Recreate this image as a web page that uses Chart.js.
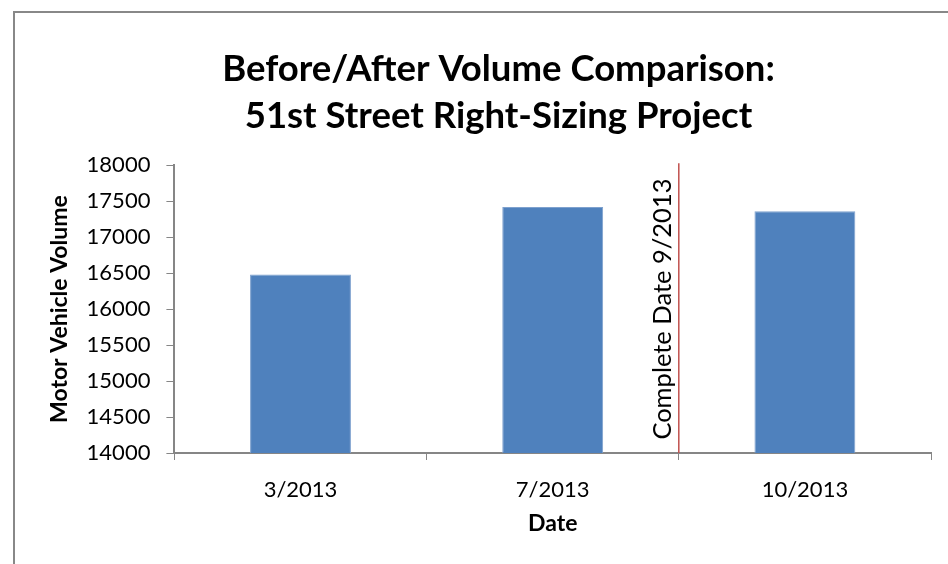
<!DOCTYPE html>
<html>
<head>
<meta charset="utf-8">
<script src="https://cdn.jsdelivr.net/npm/chart.js@4"></script>
<style>
    body { margin: 0; background: #fff; }
    #wrap { position: relative; width: 948px; height: 564px; }
    #frame { position: absolute; left: 13px; top: 11px; right: 0; bottom: 0;
             border-left: 2px solid #888; border-top: 2px solid #888; }
    #chart { position: absolute; left: 0; top: 0; }
</style>
</head>
<body>
<div id="wrap">
    <div id="frame"></div>
    <canvas id="chart" width="948" height="564"></canvas>
</div>
<script>
const dates = ['3/2013', '7/2013', '10/2013'];
const volumes = [16480, 17420, 17360];
const yTicks = [14000, 14500, 15000, 15500, 16000, 16500, 17000, 17500, 18000];
const markerLabel = 'Complete Date 9/2013';

// red line between 7/2013 and 10/2013 with rotated note
const completeLine = {
    id: 'completeLine',
    afterDatasetsDraw(chart) {
        const x = chart.scales.x;
        const area = chart.chartArea;
        const px = (x.getPixelForValue(1) + x.getPixelForValue(2)) / 2;
        const ctx = chart.ctx;
        ctx.save();
        ctx.strokeStyle = '#C0504D';
        ctx.lineWidth = 1.5;
        ctx.beginPath();
        ctx.moveTo(px, area.top - 2);
        ctx.lineTo(px, area.bottom);
        ctx.stroke();
        ctx.translate(px - 8, (area.top + area.bottom) / 2);
        ctx.rotate(-Math.PI / 2);
        ctx.fillStyle = '#000';
        ctx.font = '25.5px Lato';
        ctx.textAlign = 'center';
        ctx.textBaseline = 'alphabetic';
        ctx.fillText(markerLabel, 0, 0);
        ctx.restore();
    }
};

const ctx = document.getElementById('chart').getContext('2d');
new Chart(ctx, {
    type: 'bar',
    data: {
        labels: dates,
        datasets: [{
            label: 'Motor Vehicle Volume',
            data: volumes,
            backgroundColor: '#4F81BD',
            borderColor: '#7EA1CE',
            borderWidth: 1,
            categoryPercentage: 1,
            barPercentage: 0.4
        }]
    },
    options: {
        responsive: false,
        animation: false,
        layout: { padding: { top: 46, left: 66, right: 17, bottom: 22 } },
        plugins: {
            legend: { display: false },
            tooltip: { enabled: false },
            title: {
                display: true,
                text: ['Before/After Volume Comparison:', '51st Street Right-Sizing Project'],
                color: '#000',
                font: { family: 'Lato', size: 36.5, weight: 'bold', lineHeight: 1.29 },
                padding: { top: 0, bottom: 25 }
            }
        },
        scales: {
            x: {
                grid: { drawOnChartArea: false, offset: true, color: '#868686', tickLength: 7 },
                border: { color: '#868686', width: 2 },
                ticks: { color: '#000', font: { family: 'Lato', size: 22 }, padding: 17 },
                title: { display: true, text: 'Date', color: '#000',
                         font: { family: 'Lato', size: 23, weight: 'bold' }, padding: { top: -11, bottom: 5 } }
            },
            y: {
                min: 14000,
                max: 18000,
                afterBuildTicks(axis) { axis.ticks = yTicks.map(v => ({ value: v })); },
                grid: { drawOnChartArea: false, color: '#868686', tickLength: 8 },
                border: { color: '#868686', width: 2 },
                ticks: { color: '#000', font: { family: 'Lato', size: 22 }, padding: 16,
                         callback: v => String(v) },
                title: { display: true, text: 'Motor Vehicle Volume', color: '#000',
                         font: { family: 'Lato', size: 23, weight: 'bold' }, padding: { top: -20, bottom: -3 } }
            }
        }
    },
    plugins: [completeLine]
});
</script>
</body>
</html>
